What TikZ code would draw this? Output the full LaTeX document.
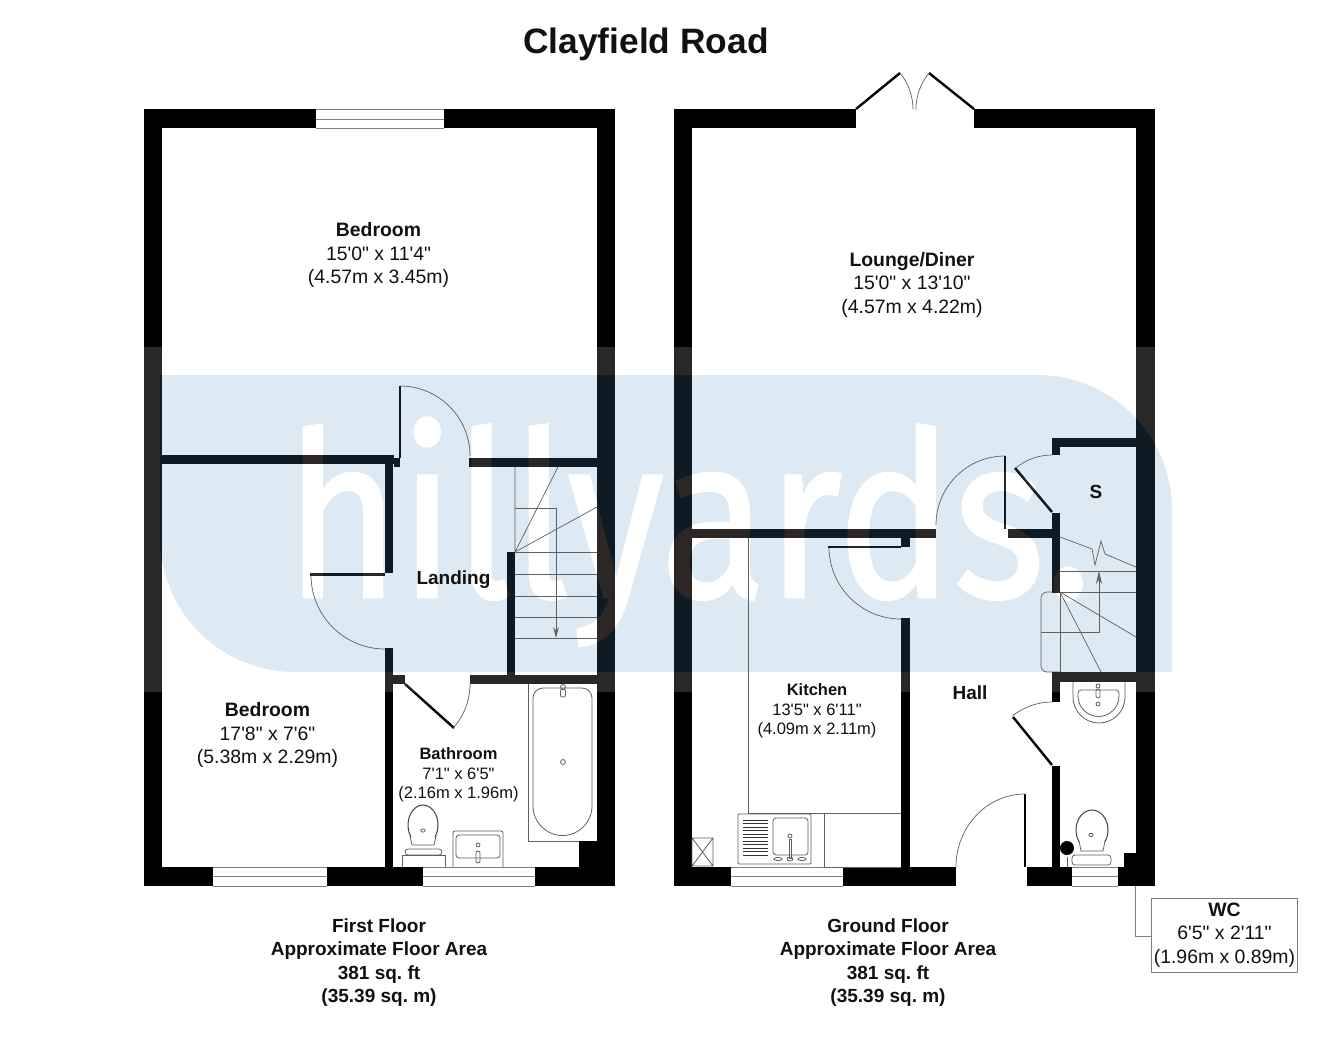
\documentclass[tikz,border=0pt]{standalone}
\usepackage{fontspec}
\newfontfamily\lab{Liberation Sans}
\newfontfamily\wmfont[FakeBold=1.2]{Fira Sans}
\usetikzlibrary{arrows.meta}
\definecolor{wmblue}{HTML}{DDE9F3}
\definecolor{thin}{HTML}{606060}
\definecolor{ink}{HTML}{111111}
\newcommand\wall[4]{\fill[black] (#1,#2) rectangle (#3,#4);}
\newcommand\wmshape{(160,375) -- (1037,375) arc[start angle=270,end angle=360,radius=135] -- (1172,672) -- (295,672) arc[start angle=90,end angle=180,radius=135] -- cycle}
\newcommand\wmword[2]{\node[#1,anchor=base west,inner sep=0pt,font=\wmfont\fontsize{230}{230}\selectfont] (#2) at (285,597) {\scalebox{0.85}[1]{hillyards.}};}
\tikzset{
  fine/.style={draw=thin,line width=0.7pt},
  winline/.style={draw=gray,line width=0.8pt},
  leaf/.style={draw=black,line width=2.4pt},
  swing/.style={draw=thin,line width=0.7pt},
  fix/.style={draw=thin,line width=0.8pt},
  lbl/.style={align=center,inner sep=0pt,text=ink,font=\lab\frenchspacing\fontsize{19.4}{23.5}\selectfont},
  lblsm/.style={align=center,inner sep=0pt,text=ink,font=\lab\frenchspacing\fontsize{16.5}{19.5}\selectfont},
  bold18/.style={inner sep=0pt,text=ink,font=\lab\frenchspacing\bfseries\fontsize{19}{23.4}\selectfont,align=center},
}
\begin{document}
\begin{tikzpicture}[x=1pt,y=1pt,yscale=-1]
\useasboundingbox (0,0) rectangle (1335,1041);
\fill[white] (0,0) rectangle (1335,1041);
% watermark base
\fill[wmblue] \wmshape;
\wmword{text=white}{wma}

% ---------- first floor walls
\wall{144}{109}{316}{128}
\wall{444}{109}{615}{128}
\wall{144}{109}{162}{886}
\wall{597}{109}{615}{886}
\wall{144}{867}{213}{886}
\wall{327}{867}{423}{886}
\wall{535}{867}{615}{886}
\wall{162}{455}{394}{464}
\wall{394}{458}{400}{467}
\wall{385}{455}{393}{573}
\wall{310}{573}{385}{575.5}
\wall{385}{648}{393}{867}
\wall{469}{458}{597}{467}
\wall{507}{552}{515}{684}
\wall{470}{675}{597}{684}
\wall{393}{675}{405}{684}
\wall{579}{841}{597}{867}
\draw[winline] (316,109) -- (444,109) (316,119) -- (444,119) (316,128) -- (444,128);
\draw[winline] (213,867) -- (327,867) (213,876.5) -- (327,876.5) (213,886) -- (327,886);
\draw[winline] (423,867) -- (535,867) (423,876.5) -- (535,876.5) (423,886) -- (535,886);
% doors, first floor
\draw[leaf] (400,458) -- (400,386);
\draw[swing] (400,386) arc[start angle=270,end angle=360,radius=70];
\draw[swing] (311,575) arc[start angle=180,end angle=90,radius=74];
\draw[leaf] (405,684) -- (454,728);
\draw[swing] (470,684) arc[start angle=0,end angle=42,radius=66];
% stairs, first floor
\draw[fine] (515,467) -- (515,552) -- (558,467);
\draw[fine] (515,552) -- (597,507);
\draw[fine] (515,552) -- (597,552) (515,574) -- (597,574) (515,596) -- (597,596) (515,617) -- (597,617) (515,638) -- (597,638);
\draw[fine,-{Stealth[length=11pt,width=5.5pt]}] (515,508) -- (556,508) -- (556,638);
% bathroom fittings
\draw[fix] (528,684) -- (528,841) -- (579,841);
\draw[fix] (533,806) -- (533,698) arc[start angle=180,end angle=270,radius=10] -- (582,688) arc[start angle=270,end angle=360,radius=10] -- (592,806) arc[start angle=0,end angle=180,radius=29.5];
\draw[fix] (563,687) circle[radius=2.5];
\draw[fix,rounded corners=2pt] (560.5,689) rectangle (565.5,697);
\draw[fix] (563,762) circle[radius=2.5];
\draw[fix,line width=1pt,draw=black!75] (423,825) ellipse[x radius=15,y radius=20];
\fill[white] (409,837) rectangle (437,846);
\draw[fix] (410,836) -- (412,845) -- (434,845) -- (436,836);
\draw[fix] (423,830.5) ellipse[x radius=2.2,y radius=1.6];
\draw[fix,rounded corners=3pt] (405,849) rectangle (442,855);
\draw[fix] (402,867) -- (402,855) -- (445,855) -- (445,867);
\draw[fix,rounded corners=2pt] (453,867) -- (453,831) -- (503,831) -- (503,867);
\draw[fix,rounded corners=3pt] (456,858) -- (456,835) -- (500,835) -- (500,858) -- cycle;
\draw[fix] (478,845) circle[radius=2];
\draw[fix,rounded corners=2pt] (476,851) rectangle (480,863);

% ---------- ground floor walls
\wall{674}{109}{856}{128}
\wall{974}{109}{1155}{128}
\wall{674}{109}{692}{886}
\wall{1136}{109}{1155}{886}
\wall{674}{867}{731}{886}
\wall{843}{867}{956}{886}
\wall{1027}{867}{1072}{886}
\wall{1118}{867}{1155}{886}
\wall{692}{529}{936}{538}
\wall{901}{538}{910}{547}
\wall{828}{545.5}{901}{548}
\wall{901}{618}{910}{867}
\wall{1008}{529}{1060}{538}
\wall{1052}{513}{1060}{593}
\wall{1052}{438}{1136}{447}
\wall{1052}{447}{1060}{455}
\wall{1052}{672}{1136}{682}
\wall{1052}{682}{1060}{702}
\wall{1052}{766}{1060}{867}
\wall{1124}{853}{1136}{867}
\fill[black] (1067,848) circle[radius=7];
\draw[winline] (731,867) -- (843,867) (731,876.5) -- (843,876.5) (731,886) -- (843,886);
\draw[winline] (1072,867) -- (1118,867) (1072,876.5) -- (1118,876.5) (1072,886) -- (1118,886);
% french doors
\draw[leaf] (856,109) -- (900,73);
\draw[leaf] (974,109) -- (929,73);
\draw[swing] (900,73) arc[start angle=-39.3,end angle=0,radius=57.5];
\draw[swing] (929,73) arc[start angle=219.3,end angle=180,radius=58];
% interior doors
\draw[swing] (829,547) arc[start angle=180,end angle=90,radius=72];
\draw[leaf] (1005,529) -- (1005,456);
\draw[swing] (1005,456) arc[start angle=270,end angle=180,radius=69];
\draw[leaf] (1052,512) -- (1015,468);
\draw[swing] (1052,455) arc[start angle=270,end angle=230,radius=57];
\draw[leaf] (1052,765) -- (1013,717);
\draw[swing] (1052,702) arc[start angle=270,end angle=231,radius=63];
\draw[leaf,line width=2pt] (1025,867) -- (1025,794);
\draw[swing] (1025,794) arc[start angle=270,end angle=180,x radius=69,y radius=73];
% stairs, ground floor
\draw[fine] (1060,537) -- (1092,549) -- (1095,565) -- (1101,541) -- (1105,554) -- (1136,567);
\draw[fine] (1060,571) -- (1136,571) (1060,592) -- (1136,592);
\draw[fine] (1060,592) -- (1060,672);
\draw[fine] (1060,592) -- (1136,637);
\draw[fine] (1060,592) -- (1101,672);
\draw[fine,rounded corners=6pt] (1060,592) -- (1041,592) -- (1041,672) -- (1060,672);
\draw[fine,-{Stealth[length=13pt,width=6pt]}] (1041,632) -- (1099,632) -- (1099,571);
% kitchen fittings
\draw[fix] (748,538) -- (748,813) -- (901,813);
\draw[fix] (824,813) -- (824,867);
\draw[fix] (824,867) -- (901,867);
\draw[fix,draw=thin,rounded corners=1pt] (738,814) rectangle (811,864);
\foreach \yy in {820,823.5,...,855} \draw[draw=black!80,line width=0.7pt] (743,\yy) -- (768,\yy);
\draw[fix,rounded corners=3pt] (773,818) rectangle (808,855);
\draw[fix] (790,836) circle[radius=2];
\draw[fix] (789,839) rectangle (791.5,858);
\draw[fix] (778,859) ellipse[x radius=4,y radius=1.6];
\draw[fix] (790,859) ellipse[x radius=3,y radius=2];
\draw[fix] (802,859) ellipse[x radius=4,y radius=1.6];
\draw[fix] (692,838) rectangle (713,866) (692,838) -- (713,866) (692,866) -- (713,838);
% WC fittings
\draw[fix] (1073,682) -- (1073,697) arc[start angle=180,end angle=0,radius=26] -- (1125,682);
\draw[fix,rounded corners=3pt] (1078,696) -- (1078,690) -- (1119,690) -- (1119,696);
\draw[fix] (1078,696) arc[start angle=180,end angle=0,radius=20.5];
\draw[fix] (1098,686) circle[radius=2];
\draw[fix] (1098,704) circle[radius=2];
\draw[fix,rounded corners=1.5pt] (1096,689) rectangle (1100,698);
\draw[fix,line width=1pt,draw=black!75] (1092,830) ellipse[x radius=16,y radius=20];
\fill[white] (1078,842) rectangle (1106,851);
\draw[fix] (1079,841) -- (1081,851) -- (1103,851) -- (1105,841);
\draw[fix] (1091,835) ellipse[x radius=2.2,y radius=1.7];
\draw[fix,rounded corners=3pt] (1072,855) rectangle (1111,865);
\draw[fix] (1067,857) -- (1067,867);
% WC box
\node[draw=gray,line width=0.9pt,minimum width=146pt,minimum height=74pt,inner sep=0pt,anchor=north west] (wcbox) at (1151,898) {};
\coordinate (wcfoot) at (1135,886);
\draw[draw=gray,line width=0.9pt] (wcfoot) |- (wcbox.west |- 0,936);

% ---------- overlays that tint the dark work
\begin{scope}[blend mode=lighten]
  \fill[even odd rule,fill={rgb,255:red,42;green,40;blue,38}] (130,347) rectangle (1180,692) \wmshape;
  \fill[fill={rgb,255:red,14;green,26;blue,36}] \wmshape;
  \wmword{text={rgb,255:red,44;green,38;blue,34}}{wmb}
\end{scope}

% ---------- texts
\node[inner sep=0pt,font=\lab\bfseries\fontsize{35.3}{38}\selectfont,text=ink] (title) at (646,44) {Clayfield Road};
\node[lbl] (bed1) at (378.5,255) {\textbf{Bedroom}\\15'0" x 11'4"\\(4.57m x 3.45m)};
\node[lbl] (lounge) at (912,284.5) {\textbf{Lounge/Diner}\\15'0" x 13'10"\\(4.57m x 4.22m)};
\node[lbl] (bed2) at (267.5,735) {\textbf{Bedroom}\\17'8" x 7'6"\\(5.38m x 2.29m)};
\node[lblsm] (bath) at (458.5,775) {\textbf{Bathroom}\\7'1" x 6'5"\\(2.16m x 1.96m)};
\node[lblsm] (kit) at (817,711) {\textbf{Kitchen}\\13'5" x 6'11"\\(4.09m x 2.11m)};
\node[bold18] (hall) at (970,693) {Hall};
\node[bold18] (land) at (453.5,580) {Landing};
\node[bold18] (store) at (1096,492) {S};
\node[lbl] (wc) at ([yshift=-0.5pt]wcbox.center) {\textbf{WC}\\6'5" x 2'11"\\(1.96m x 0.89m)};
\node[bold18] (ff) at (379,962.5) {First Floor\\Approximate Floor Area\\381 sq. ft\\(35.39 sq. m)};
\node[bold18] (gf) at (888,962.5) {Ground Floor\\Approximate Floor Area\\381 sq. ft\\(35.39 sq. m)};
\end{tikzpicture}
\end{document}
